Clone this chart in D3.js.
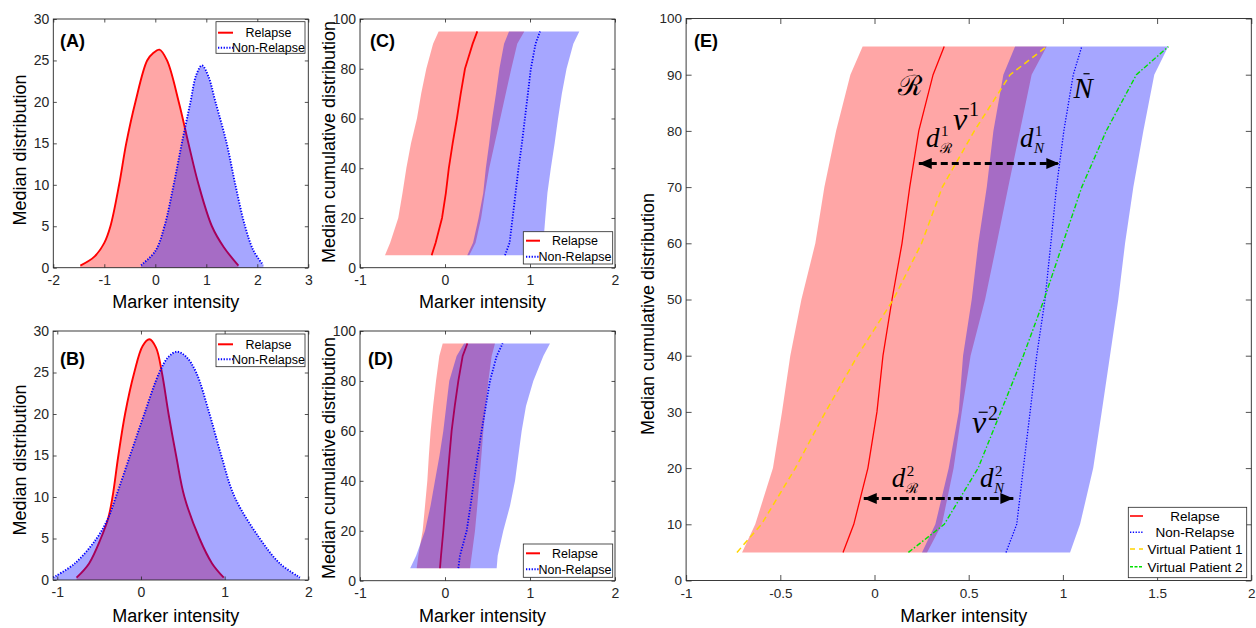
<!DOCTYPE html>
<html><head><meta charset="utf-8">
<script src="https://cdn.jsdelivr.net/npm/d3@7"></script>
<style>
body{margin:0;background:#fff}
svg{display:block}
</style>
</head><body>
<script>
// ---------------- DATA ----------------
// Panel A: median densities
const aRelX = [-1.47,-1.2,-1.0,-0.88,-0.71,-0.57,-0.39,-0.16,-0.04,0.08,0.23,0.46,0.65,0.85,1.11,1.34,1.63];
const aRelY = [0.25,1.3,3.0,5,10,15,20,25,25.9,26.3,25,20,15,10,5,2.5,0.25];
const aNonX = [-0.28,0.0,0.18,0.36,0.52,0.69,0.80,0.915,1.04,1.18,1.40,1.57,1.76,1.93,2.12];
const aNonY = [0.3,2.0,5,10,15,20,23.2,24.4,23.1,20,15,10,5,2,0.3];
// Panel B: median densities
const bRelX = [-0.77,-0.62,-0.48,-0.39,-0.34,-0.27,-0.19,-0.08,0.02,0.10,0.18,0.25,0.33,0.42,0.52,0.70,0.85,0.99];
const bRelY = [0.28,2,5,7.5,10,15,20,25,28.2,29,28.0,25,20,15,10,5,2,0.28];
const bNonX = [-1.05,-0.79,-0.53,-0.39,-0.30,-0.13,0.04,0.22,0.33,0.43,0.54,0.66,0.82,0.96,1.12,1.42,1.66,1.90];
const bNonY = [0.3,2,5,7.5,10,15,20,25,26.9,27.5,26.9,25,20,15,10,5,2,0.3];

// Cumulative distribution levels (percent)
const cdfLevels = [5,10,20,30,40,50,60,70,80,90,95];
// Panel C
const cRelLo  = [-0.706,-0.645,-0.55,-0.50,-0.455,-0.40,-0.33,-0.28,-0.22,-0.14,-0.075];
const cRelHi  = [0.286,0.36,0.425,0.47,0.52,0.585,0.65,0.715,0.78,0.85,0.933];
const cNonLo  = [0.262,0.33,0.395,0.45,0.48,0.52,0.555,0.60,0.64,0.695,0.753];
const cNonHi  = [1.145,1.157,1.18,1.205,1.245,1.29,1.33,1.375,1.43,1.51,1.58];
const cRelMed = [-0.157,-0.11,-0.035,0.01,0.045,0.09,0.14,0.185,0.235,0.325,0.38];
const cNonMed = [0.706,0.76,0.795,0.83,0.865,0.905,0.94,0.975,1.01,1.065,1.118];
// Panel D
const dRelLo  = [-0.333,-0.314,-0.263,-0.235,-0.208,-0.19,-0.169,-0.14,-0.106,-0.067,-0.027];
const dRelHi  = [0.294,0.314,0.353,0.38,0.404,0.428,0.451,0.48,0.51,0.549,0.588];
const dNonLo  = [-0.41,-0.34,-0.235,-0.17,-0.118,-0.065,-0.02,0.015,0.05,0.137,0.224];
const dNonHi  = [0.608,0.62,0.686,0.765,0.824,0.863,0.902,0.953,1.039,1.157,1.235];
const dRelMed = [-0.059,-0.047,-0.02,0.003,0.027,0.052,0.078,0.115,0.157,0.208,0.263];
const dNonMed = [0.157,0.176,0.255,0.30,0.341,0.385,0.431,0.48,0.529,0.608,0.678];
// Panel E
const eRelLo  = [-0.703,-0.633,-0.539,-0.491,-0.447,-0.388,-0.314,-0.266,-0.204,-0.128,-0.063];
const eRelHi  = [0.279,0.358,0.420,0.463,0.510,0.587,0.649,0.710,0.772,0.834,0.914];
const eNonLo  = [0.252,0.323,0.394,0.447,0.470,0.516,0.551,0.596,0.631,0.684,0.746];
const eNonHi  = [1.038,1.091,1.161,1.206,1.250,1.294,1.330,1.374,1.427,1.485,1.559];
const eRelMed = [-0.167,-0.110,-0.035,0.013,0.045,0.093,0.146,0.187,0.235,0.311,0.370];
const eNonMed = [0.698,0.755,0.790,0.826,0.861,0.905,0.936,0.966,1.005,1.055,1.100];
const eVp1    = [-0.73,-0.60,-0.42,-0.26,-0.09,0.10,0.25,0.36,0.53,0.72,0.914];
const eVp2    = [0.18,0.37,0.55,0.67,0.79,0.90,1.00,1.10,1.23,1.39,1.56];
// distance arrows in E (level, from, to)
const arrowLevel = [74.2, 14.6];
const arrowFrom  = [0.235, -0.057];
const arrowTo    = [0.981, 0.737];

// ticks
const xTicksA = [-2,-1,0,1,2,3];
const xTicksBCD = [-1,0,1,2];
const yTicksAB = [0,5,10,15,20,25,30];
const yTicksCD = [0,20,40,60,80,100];
const xTicksE = [-1,-0.5,0,0.5,1,1.5,2];
const yTicksE = [0,10,20,30,40,50,60,70,80,90,100];

const legendNames2 = ["Relapse","Non-Relapse"];
const legendNamesE = ["Relapse","Non-Relapse","Virtual Patient 1","Virtual Patient 2"];

// ---------------- DRAWING ----------------
const FONT = '"Liberation Sans", Arial, Helvetica, sans-serif';
const AX = '#262626';
const RED = '#ff0000', BLUE = '#0000ff', YEL = '#ffd400', GRN = '#00e000';
const RFILL = 'rgba(255,0,0,0.35)', BFILL = 'rgba(0,0,255,0.35)';

const svg = d3.select('body').append('svg').attr('width',1256).attr('height',628)
  .style('font-family', FONT);

const defs = svg.append('defs');
defs.append('marker').attr('id','ah').attr('markerUnits','userSpaceOnUse')
  .attr('markerWidth',14).attr('markerHeight',12).attr('refX',13).attr('refY',6)
  .attr('orient','auto-start-reverse')
  .append('path').attr('d','M0,0.5 L13,6 L0,11.5 Z').attr('fill','#000');

function makePanel(xd, xr, yd, yr){
  const g = svg.append('g');
  const x = d3.scaleLinear().domain(xd).range(xr);
  const y = d3.scaleLinear().domain(yd).range(yr);
  return {g,x,y};
}

function drawAxes(p, o){
  const {g,x,y} = p;
  const fmt = d => String(d).replace('−','-');
  const style = a => {
    a.select('.domain').remove();
    a.selectAll('line').attr('stroke',AX).attr('stroke-width',0.8);
    a.selectAll('text').attr('fill',AX).style('font-size',o.fs+'px').style('font-family',FONT);
  };
  const [x0,x1] = x.range(), [y0,y1] = y.range();
  g.append('g').attr('transform',`translate(0,${y0})`)
    .call(d3.axisBottom(x).tickValues(o.xt).tickSize(-o.tl).tickPadding(o.xpad).tickFormat(fmt)).call(style);
  g.append('g').attr('transform',`translate(0,${y1})`)
    .call(d3.axisTop(x).tickValues(o.xt).tickSize(-o.tl).tickFormat('')).call(style);
  g.append('g').attr('transform',`translate(${x0},0)`)
    .call(d3.axisLeft(y).tickValues(o.yt).tickSize(-o.tl).tickPadding(4).tickFormat(fmt)).call(style);
  g.append('g').attr('transform',`translate(${x1},0)`)
    .call(d3.axisRight(y).tickValues(o.yt).tickSize(-o.tl).tickFormat('')).call(style);
  g.append('rect').attr('x',x0).attr('y',y1).attr('width',x1-x0).attr('height',y0-y1)
    .attr('fill','none').attr('stroke',AX).attr('stroke-width',0.9);
  // labels
  g.append('text').attr('x',(x0+x1)/2 - 5).attr('y',o.xlY).attr('text-anchor','middle')
    .attr('fill','#000').style('font-size','18px').text('Marker intensity');
  g.append('text').attr('transform',`translate(${o.ylX},${o.ylY}) rotate(-90)`).attr('text-anchor','middle')
    .attr('fill','#000').style('font-size','18px').text(o.ylab);
  g.append('text').attr('x',o.tagX).attr('y',o.tagY).attr('fill','#000')
    .style('font-size','18px').style('font-weight','bold').text(o.tag);
}

function densityPanel(p, relX, relY, nonX, nonY){
  const {g,x,y} = p;
  const rel = relX.map((v,i)=>[v,relY[i]]);
  const non = nonX.map((v,i)=>[v,nonY[i]]);
  const cv = d3.curveCatmullRom.alpha(0.5);
  const area = d3.area().x(d=>x(d[0])).y0(y(0)).y1(d=>y(d[1])).curve(cv);
  const line = d3.line().x(d=>x(d[0])).y(d=>y(d[1])).curve(cv);
  g.append('path').attr('d',area(rel)).attr('fill',RFILL);
  g.append('path').attr('d',line(rel)).attr('fill','none').attr('stroke',RED).attr('stroke-width',1.9);
  g.append('path').attr('d',area(non)).attr('fill',BFILL);
  g.append('path').attr('d',line(non)).attr('fill','none').attr('stroke',BLUE).attr('stroke-width',1.9)
    .attr('stroke-dasharray','1.3,1.5');
}

function cdfPanel(p, relLo, relHi, relMed, nonLo, nonHi, nonMed, lw){
  const {g,x,y} = p;
  const band = (lo,hi) => cdfLevels.map((v,i)=>({v, lo:lo[i], hi:hi[i]}));
  const area = d3.area().y(d=>y(d.v)).x0(d=>x(d.lo)).x1(d=>x(d.hi));
  const line = arr => d3.line().x(d=>x(d.m)).y(d=>y(d.v))(cdfLevels.map((v,i)=>({v,m:arr[i]})));
  g.append('path').attr('d',area(band(relLo,relHi))).attr('fill',RFILL);
  g.append('path').attr('d',line(relMed)).attr('fill','none').attr('stroke',RED).attr('stroke-width',lw);
  g.append('path').attr('d',area(band(nonLo,nonHi))).attr('fill',BFILL);
  g.append('path').attr('d',line(nonMed)).attr('fill','none').attr('stroke',BLUE).attr('stroke-width',lw)
    .attr('stroke-dasharray','1.3,1.6');
  return line;
}

function legend(box, rows, names, styles, fs, sx0, sx1, tx){
  const g = svg.append('g');
  g.append('rect').attr('x',box[0]).attr('y',box[1]).attr('width',box[2]-box[0]).attr('height',box[3]-box[1])
    .attr('fill','#fff').attr('stroke',AX).attr('stroke-width',0.8);
  names.forEach((n,i)=>{
    const s = styles[i];
    g.append('line').attr('x1',sx0).attr('x2',sx1).attr('y1',rows[i]).attr('y2',rows[i])
      .attr('stroke',s.c).attr('stroke-width',s.w).attr('stroke-dasharray',s.d||null);
    g.append('text').attr('x',tx).attr('y',rows[i]).attr('dy','0.36em').attr('text-anchor','middle')
      .attr('fill','#000').style('font-size',fs+'px').text(n);
  });
}

const st2 = [{c:RED,w:2},{c:BLUE,w:2,d:'1.3,1.5'}];

// Panel A
const pA = makePanel([-2,3],[53.3,308.3],[0,30],[267.7,19]);
densityPanel(pA, aRelX, aRelY, aNonX, aNonY);
drawAxes(pA,{xt:xTicksA, yt:yTicksAB, tl:3.5, fs:14, xpad:7, xlY:307.5, ylX:26, ylY:150, ylab:'Median distribution', tag:'(A)', tagX:60, tagY:46.5});
legend([216,21.7,305,53.3],[32.7,47.7],legendNames2,st2,12.5,218,233,268.5);

// Panel B
const pB = makePanel([-1.05,2],[53.1,308.3],[0,30],[580,331]);
densityPanel(pB, bRelX, bRelY, bNonX, bNonY);
drawAxes(pB,{xt:xTicksBCD, yt:yTicksAB, tl:3.5, fs:14, xpad:7, xlY:621.5, ylX:26, ylY:460, ylab:'Median distribution', tag:'(B)', tagX:60, tagY:365});
legend([216,334,305,366.7],[344.3,359.3],legendNames2,st2,12.5,218,233,268.5);

// Panel C
const pC = makePanel([-1,2],[360,615],[0,100],[267.7,19]);
cdfPanel(pC, cRelLo, cRelHi, cRelMed, cNonLo, cNonHi, cNonMed, 1.8);
drawAxes(pC,{xt:xTicksBCD, yt:yTicksCD, tl:3.5, fs:14, xpad:7, xlY:307.5, ylX:335, ylY:142, ylab:'Median cumulative distribution', tag:'(C)', tagX:370, tagY:46.5});
legend([523.3,231.7,612.7,264],[240.7,256.7],legendNames2,st2,12.5,526,540,575);

// Panel D
const pD = makePanel([-1,2],[360,615],[0,100],[580.7,331]);
cdfPanel(pD, dRelLo, dRelHi, dRelMed, dNonLo, dNonHi, dNonMed, 1.8);
drawAxes(pD,{xt:xTicksBCD, yt:yTicksCD, tl:3.5, fs:14, xpad:7, xlY:622, ylX:335, ylY:458, ylab:'Median cumulative distribution', tag:'(D)', tagX:368, tagY:365});
legend([523.3,544,612.7,577.3],[553.3,569.3],legendNames2,st2,12.5,526,540,575);

// Panel E
const pE = makePanel([-1,2],[686.1,1251.3],[0,100],[580.5,18.5]);
const lineE = cdfPanel(pE, eRelLo, eRelHi, eRelMed, eNonLo, eNonHi, eNonMed, 1.3);
pE.g.append('path').attr('d',lineE(eVp1)).attr('fill','none').attr('stroke',YEL).attr('stroke-width',1.5)
  .attr('stroke-dasharray','6,4');
pE.g.append('path').attr('d',lineE(eVp2)).attr('fill','none').attr('stroke',GRN).attr('stroke-width',1.4)
  .attr('stroke-dasharray','5,2,1.5,2');
// arrows
const arrowDash = ['7,4','9,3,3,3'];
arrowLevel.forEach((lv,i)=>{
  pE.g.append('line').attr('x1',pE.x(arrowFrom[i])).attr('x2',pE.x(arrowTo[i]))
    .attr('y1',pE.y(lv)).attr('y2',pE.y(lv)).attr('stroke','#000').attr('stroke-width',3)
    .attr('stroke-dasharray',arrowDash[i])
    .attr('marker-start','url(#ah)').attr('marker-end','url(#ah)');
});
drawAxes(pE,{xt:xTicksE, yt:yTicksE, tl:5.5, fs:13.5, xpad:7.5, xlY:622, ylX:654, ylY:314, ylab:'Median cumulative distribution', tag:'(E)', tagX:694, tagY:46.5});

// math annotations (data coordinates of E)
const MATH = '"Liberation Serif","DejaVu Serif",serif';
const scriptR = '\u211B';
function glyph(g, x, y, s, fs, fam, italic){
  return g.append('text').attr('x',x).attr('y',y).attr('fill','#000')
    .style('font-family',fam).style('font-size',fs+'px').style('font-style',italic?'italic':'normal').text(s);
}
function sym(xd, vd, main, fs, opts){
  const g = pE.g, X = pE.x(xd), Y = pE.y(vd);
  const isR = main === 'R';
  const t = isR ? glyph(g, X, Y, scriptR, fs, '"DejaVu Serif",serif', false)
                : glyph(g, X, Y, main, fs, MATH, true);
  const bb = t.node().getBBox();
  if (opts.bar){
    const [a,b,dy] = opts.bar;
    g.append('line').attr('x1',bb.x + a*bb.width).attr('x2',bb.x + b*bb.width)
      .attr('y1',Y - dy).attr('y2',Y - dy).attr('stroke','#000').attr('stroke-width',1.2);
  }
  const bx = bb.x + bb.width + 1;
  if (opts.sup) glyph(g, bx, Y - fs*0.42, opts.sup, opts.supFs, MATH, false);
  if (opts.sub){
    if (opts.sub === 'R') glyph(g, bx - 1, Y + fs*0.22, scriptR, opts.subFs, '"DejaVu Serif",serif', false);
    else glyph(g, bx - 1, Y + fs*0.22, opts.sub, opts.subFs, MATH, true);
  }
}
sym(0.124, 86.4, 'R', 28, {bar:[0.42,0.62,25]});
sym(1.056, 85.9, 'N', 29, {bar:[0.5,0.78,24]});
sym(0.417, 80.2, 'v', 32, {bar:[0.45,1.05,21], sup:'1', supFs:20});
sym(0.517, 26.2, 'v', 32, {bar:[0.45,1.05,21], sup:'2', supFs:20});
sym(0.273, 77.1, 'd', 27, {sup:'1', sub:'R', supFs:15, subFs:14});
sym(0.772, 77.1, 'd', 27, {sup:'1', sub:'N', supFs:15, subFs:15});
sym(0.092, 16.6, 'd', 27, {sup:'2', sub:'R', supFs:15, subFs:14});
sym(0.560, 16.6, 'd', 27, {sup:'2', sub:'N', supFs:15, subFs:15});

legend([1128.3,507.3,1246.7,577.7],[516,532.3,549,566.7],legendNamesE,
  [{c:RED,w:1.6},{c:BLUE,w:1.4,d:'1.3,1.5'},{c:YEL,w:1.5,d:'5,4'},{c:GRN,w:1.4,d:'3,1.5'}],
  13.5,1130,1143,1195);
</script>
</body></html>
